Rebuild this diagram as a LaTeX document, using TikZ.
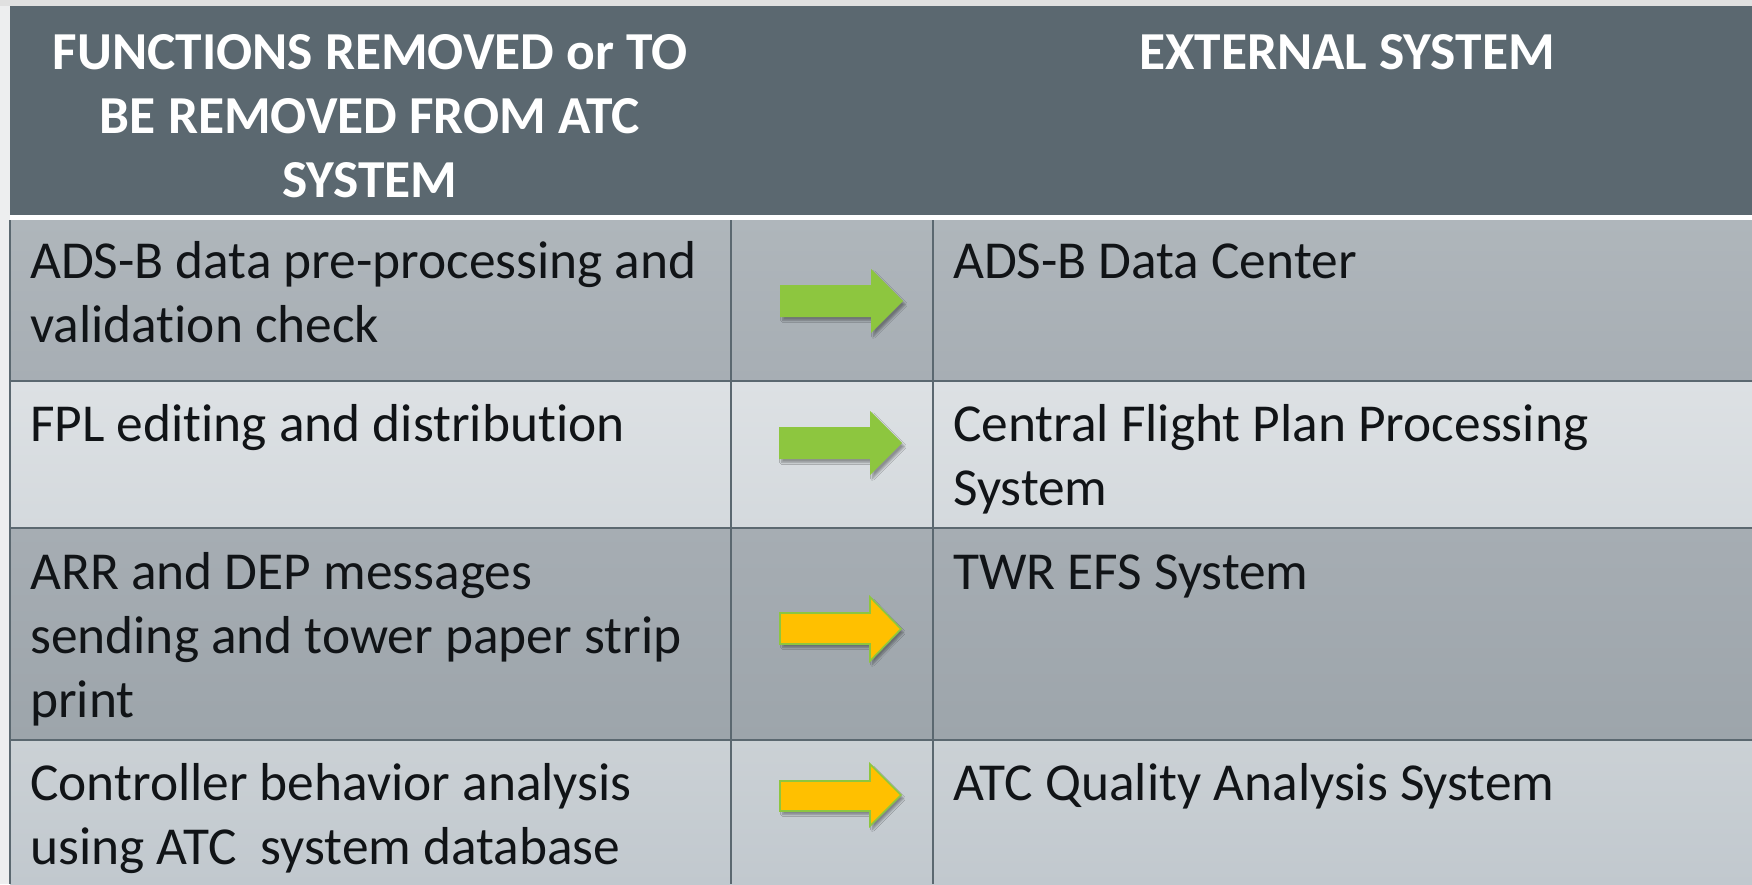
\documentclass[tikz,border=0pt]{standalone}
\usepackage{fontspec}
\setmainfont{Carlito}[Ligatures=NoCommon]
\usetikzlibrary{shadows.blur}
\definecolor{hdr}{HTML}{5B6870}
\definecolor{bgc}{HTML}{EDEEEF}
\definecolor{topc}{HTML}{E0E0E0}
\definecolor{rat}{HTML}{AFB6BB}
\definecolor{rab}{HTML}{A7AEB4}
\definecolor{rbt}{HTML}{DDE1E4}
\definecolor{rbb}{HTML}{D4D9DD}
\definecolor{rct}{HTML}{A6ADB3}
\definecolor{rcb}{HTML}{9DA5AB}
\definecolor{rdt}{HTML}{CBD1D5}
\definecolor{rdb}{HTML}{C1C8CE}
\definecolor{agreen}{HTML}{8DC63F}
\definecolor{ayellow}{HTML}{FFC000}
\definecolor{txt}{HTML}{111417}
\tikzset{
  hd/.style={inner sep=0pt, text=white, align=center, font=\fontsize{53.4}{64}\selectfont\bfseries},
  cell/.style={inner sep=0pt, text=txt, align=left, font=\fontsize{53.4}{64}\selectfont},
  gridline/.style={draw=hdr, line width=2.5pt},
  shadowed/.style={blur shadow={shadow xshift=2.5pt, shadow yshift=-3.5pt, shadow opacity=35, shadow blur steps=6}},
  greenarrow/.style={fill=agreen, shadowed},
  yellowarrow/.style={fill=ayellow, draw=agreen, line width=1.6pt, shadowed}
}
\begin{document}
\begin{tikzpicture}[x=1pt,y=-1pt]
\useasboundingbox (0,0) rectangle (1752,884);
\fill[bgc] (0,0) rectangle (1752,884);
\fill[topc] (0,0) rectangle (1752,6);
% header
\fill[hdr] (10,6) rectangle (1752,215);
\fill[white] (10,215) rectangle (1752,220);
% rows
\shade[top color=rat, bottom color=rab] (10,220) rectangle (1752,381);
\shade[top color=rbt, bottom color=rbb] (10,381) rectangle (1752,528);
\shade[top color=rct, bottom color=rcb] (10,528) rectangle (1752,740);
\shade[top color=rdt, bottom color=rdb] (10,740) rectangle (1752,884);
% grid
\draw[gridline] (10,381) -- (1752,381);
\draw[gridline] (10,528) -- (1752,528);
\draw[gridline] (10,740) -- (1752,740);
\draw[gridline] (731,220) -- (731,884);
\draw[gridline] (933,220) -- (933,884);
\draw[hdr, line width=1.5pt] (10,220) -- (10,884);
% header texts (base anchor = baseline of last line)
\node[hd, anchor=base] (h1) at (370,197) {FUNCTIONS REMOVED or TO\\BE REMOVED FROM ATC\\SYSTEM};
\node[hd, anchor=base] (h2) at (1347,69) {EXTERNAL SYSTEM};
% left cells
\node[cell, anchor=base west] (f1) at (30,342) {ADS-B data pre-processing and\\validation check};
\node[cell, anchor=base west] (f2) at (30,441) {FPL editing and distribution};
\node[cell, anchor=base west] (f3) at (30,717) {ARR and DEP messages\\sending and tower paper strip\\print};
\node[cell, anchor=base west] (f4) at (30,864) {Controller behavior analysis\\using ATC\ \ system database};
% right cells
\node[cell, anchor=base west] (e1) at (953,278) {ADS-B Data Center};
\node[cell, anchor=base west] (e2) at (953,505) {Central Flight Plan Processing\\System};
\node[cell, anchor=base west] (e3) at (953,589) {TWR EFS System};
\node[cell, anchor=base west] (e4) at (953,800) {ATC Quality Analysis System};
% arrows
\path[greenarrow] (780,285) -- (871,285) -- (871,269) -- (903,301) -- (871,333) -- (871,317) -- (780,317) -- cycle;
\path[greenarrow] (779,427) -- (870,427) -- (870,411) -- (902,443) -- (870,475) -- (870,459) -- (779,459) -- cycle;
\path[yellowarrow] (780,613) -- (870,613) -- (870,597) -- (901,629) -- (870,661) -- (870,644) -- (780,644) -- cycle;
\path[yellowarrow] (780,781) -- (870,781) -- (870,764) -- (901,795) -- (870,826) -- (870,811) -- (780,811) -- cycle;
\end{tikzpicture}
\end{document}
